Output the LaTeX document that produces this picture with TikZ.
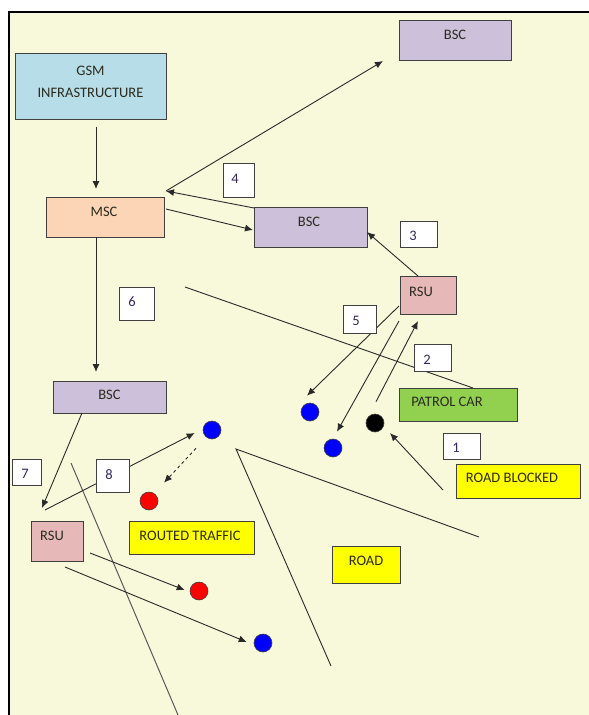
\documentclass[tikz,border=0pt]{standalone}
\usepackage{fontspec}
\setmainfont{Carlito}
\usetikzlibrary{arrows.meta,calc}
\definecolor{bg}{HTML}{F8F9DA}
\definecolor{gsmc}{HTML}{B7DDE8}
\definecolor{bscc}{HTML}{CCC0DA}
\definecolor{mscc}{HTML}{FBD5B5}
\definecolor{rsuc}{HTML}{E6B9B8}
\definecolor{patc}{HTML}{92D050}
\definecolor{yelc}{HTML}{FFFF00}
\definecolor{edge}{HTML}{404040}
\definecolor{lin}{HTML}{2A2A2A}
\definecolor{roadc}{HTML}{5A5A5A}
\definecolor{txt}{HTML}{2B2B1E}
\definecolor{numc}{HTML}{302860}
\begin{document}
\begin{tikzpicture}[x=1pt,y=-1pt,
  font=\fontsize{14.5}{17}\selectfont,
  box/.style={draw=edge, line width=0.9pt, rectangle, inner sep=0pt, outer sep=0pt, anchor=north west},
  lbl/.style={text=txt, inner sep=0pt, align=center},
  nlbl/.style={text=numc, inner sep=0pt},
  numbox/.style={box, fill=white},
  dot/.style={circle, draw=edge, line width=0.6pt, minimum size=18pt, inner sep=0pt},
  arr/.style={draw=lin, line width=0.9pt, -{Latex[length=8pt,width=7pt]}},
  plainline/.style={draw=lin, line width=0.9pt},
  roadline/.style={draw=roadc, line width=1pt}]

\useasboundingbox (0,0) rectangle (589,715);
\fill[white] (0,0) rectangle (589,715);
\fill[bg] (10,13) rectangle (589,715);
\draw[line width=2.2pt] (9,715) -- (9,12) -- (589,12);

% road lines
\coordinate (rA1) at (71,463);
\coordinate (rA2) at (178,715);
\coordinate (rV) at (236,449);
\coordinate (rB) at (331,666);
\coordinate (rC) at (479,537);
\draw[roadline] (rA1) -- (rA2);
\draw[plainline] (rB) -- (rV) -- (rC);

% boxes
\node[box, fill=gsmc, minimum width=151pt, minimum height=66pt,
  label={[lbl,yshift=4.5pt]center:{GSM\\[5pt]INFRASTRUCTURE}}] (gsm) at (15,53) {};
\node[box, fill=bscc, minimum width=112pt, minimum height=40pt,
  label={[lbl,yshift=5pt]center:BSC}] (bscT) at (399,20) {};
\node[box, fill=mscc, minimum width=118pt, minimum height=40pt,
  label={[lbl,yshift=5pt,xshift=-1pt]center:MSC}] (msc) at (46,197) {};
\node[box, fill=bscc, minimum width=113pt, minimum height=40pt,
  label={[lbl,yshift=5pt,xshift=-1.5pt]center:BSC}] (bscM) at (254,207) {};
\node[box, fill=rsuc, minimum width=56pt, minimum height=38pt,
  label={[lbl,yshift=3pt,xshift=-7pt]center:RSU}] (rsuR) at (400,276) {};
\node[box, fill=patc, minimum width=118pt, minimum height=33pt,
  label={[lbl,yshift=2.5pt,xshift=-11pt]center:PATROL CAR}] (patrol) at (399,388) {};
\node[box, fill=bscc, minimum width=113pt, minimum height=32pt,
  label={[lbl,yshift=2pt]center:BSC}] (bscL) at (53,381) {};
\node[box, fill=rsuc, minimum width=52pt, minimum height=40pt,
  label={[lbl,yshift=5pt,xshift=-5pt]center:RSU}] (rsuL) at (31,521) {};
\node[box, fill=yelc, minimum width=125pt, minimum height=33pt,
  label={[lbl,yshift=1.5pt,xshift=-1.5pt]center:ROUTED TRAFFIC}] (routed) at (129,521) {};
\node[box, fill=yelc, minimum width=124pt, minimum height=34pt,
  label={[lbl,yshift=3pt,xshift=-6pt]center:ROAD BLOCKED}] (roadB) at (456,464) {};
\node[box, fill=yelc, minimum width=68pt, minimum height=37pt,
  label={[lbl,yshift=3.5pt]center:ROAD}] (road) at (332,546) {};

% dots
\node[dot, fill=blue] (b1) at (310,412) {};
\node[dot, fill=blue] (b2) at (333,448) {};
\node[dot, fill=black] (blk) at (375,423) {};
\node[dot, fill=blue] (b3) at (212,430) {};
\node[dot, fill=red] (red1) at (149,501) {};
\node[dot, fill=red] (red2) at (199,591) {};
\node[dot, fill=blue] (b4) at (263,643) {};

% connectors
\coordinate (mscTip) at ([xshift=2pt,yshift=6pt]msc.north east);
\coordinate (l2start) at (185,287);
\draw[plainline] (l2start) -- ([xshift=15pt]patrol.north);
\draw[arr] ([xshift=5.5pt,yshift=-8pt]gsm.south) -- ([xshift=-9pt,yshift=8pt]msc.north);
\draw[arr] ([yshift=-1pt]bscM.north west) -- (mscTip);
\draw[arr] (mscTip) -- ([xshift=-16pt,yshift=-1pt]bscT.south west);
\draw[arr] ([xshift=2pt,yshift=8pt]msc.east) -- ([xshift=-1pt,yshift=-3pt]bscM.west);
\draw[arr] ([xshift=-9pt]msc.south) -- ([xshift=-13.5pt,yshift=9pt]bscL.north);
\draw[arr] ([xshift=-10pt]rsuR.north) -- ([yshift=-5pt]bscM.east);
\draw[arr] ([xshift=-1pt,yshift=-11pt]rsuR.west) -- ([xshift=-3pt,yshift=7pt]b1.north);
\draw[arr] ([xshift=-1pt,yshift=-7pt]rsuR.south west) -- ([xshift=4pt,yshift=7pt]b2.north);
\draw[arr] ([xshift=1pt,yshift=12pt]blk.north) -- ([xshift=-10pt,yshift=-7pt]rsuR.south);
\draw[arr] ([xshift=-13pt,yshift=-9pt]roadB.west) -- ([xshift=15pt,yshift=-10pt]blk.center);
\draw[arr] ([xshift=-27.5pt]bscL.south) -- ([xshift=-15pt,yshift=13pt]rsuL.north);
\draw[arr] ([xshift=-12pt,yshift=11pt]rsuL.north) -- ([xshift=-8pt,yshift=-3pt]b3.west);
\draw[arr, dashed] ([xshift=-16pt,yshift=-9pt]b3.south) -- ([xshift=15pt,yshift=9pt]red1.north);
\draw[arr] ([xshift=7pt,yshift=-12pt]rsuL.east) -- ([xshift=-5pt,yshift=1pt]red2.west);
\draw[arr] ([xshift=8pt,yshift=-6pt]rsuL.south) -- ([xshift=-7pt,yshift=1pt]b4.west);

% number boxes
\node[numbox, minimum width=31pt, minimum height=34pt,
  label={[nlbl,xshift=-3.5pt,yshift=1pt]center:4}] (n4) at (223,163) {};
\node[numbox, minimum width=37pt, minimum height=26pt,
  label={[nlbl,xshift=-5.5pt,yshift=-2pt]center:3}] (n3) at (400,221) {};
\node[numbox, minimum width=35pt, minimum height=33pt,
  label={[nlbl,xshift=-4.5pt,yshift=1.5pt]center:6}] (n6) at (119,287) {};
\node[numbox, minimum width=33pt, minimum height=28pt,
  label={[nlbl,xshift=-3.5pt,yshift=-2pt]center:5}] (n5) at (343,305) {};
\node[numbox, minimum width=37pt, minimum height=27pt,
  label={[nlbl,xshift=-5.5pt,yshift=-2.5pt]center:2}] (n2) at (414,344) {};
\node[numbox, minimum width=29pt, minimum height=26pt,
  label={[nlbl,xshift=-1.5pt,yshift=-2pt]center:7}] (n7) at (12,459) {};
\node[numbox, minimum width=33pt, minimum height=33pt,
  label={[nlbl,xshift=-3.5pt,yshift=0.5pt]center:8}] (n8) at (96,459) {};
\node[numbox, minimum width=37pt, minimum height=26pt,
  label={[nlbl,xshift=-5.5pt,yshift=-2pt]center:1}] (n1) at (443,433) {};
\end{tikzpicture}
\end{document}
